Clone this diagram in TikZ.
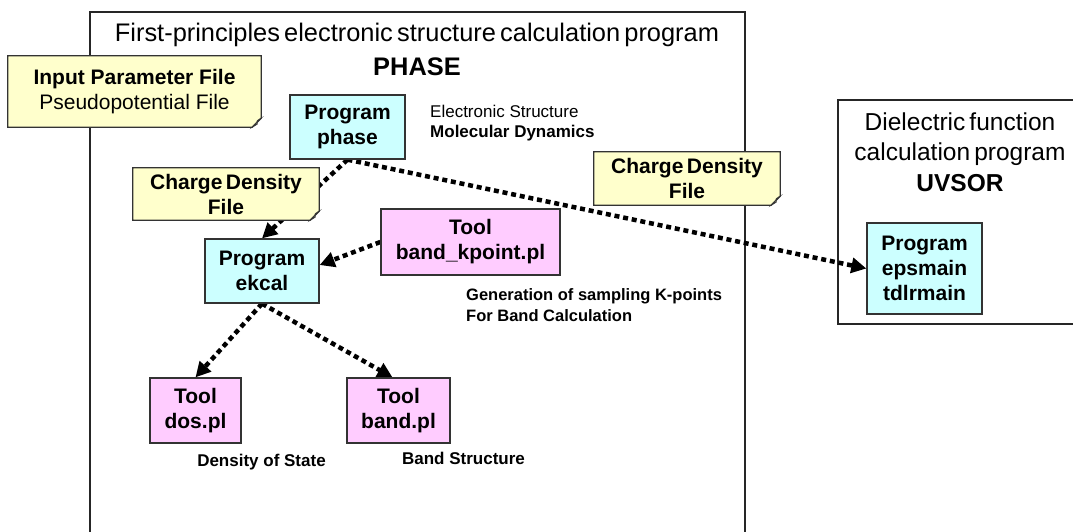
\documentclass[tikz,border=0pt]{standalone}
\usepackage{fontspec}
\setmainfont{Liberation Sans}
\newfontfamily\tightsans{Liberation Sans}[WordSpace=0.6]
\usetikzlibrary{arrows.meta,calc}
\definecolor{cyanfill}{HTML}{CCFFFF}
\definecolor{pinkfill}{HTML}{FFCCFF}
\definecolor{notefill}{HTML}{FFFFCC}
\definecolor{edgegray}{HTML}{333333}
\pgfdeclarelayer{frames}
\pgfdeclarelayer{links}
\pgfdeclarelayer{notebg}
\pgfsetlayers{frames,links,notebg,main}
\newcommand\dogear[1]{%
  \begin{pgfonlayer}{notebg}
  \draw[draw=edgegray,line width=1.3pt,fill=notefill,line join=miter]
    (#1.north west) -- (#1.north east) -- ([yshift=9pt]#1.south east)
    -- ([xshift=-9pt]#1.south east) -- (#1.south west) -- cycle;
  \draw[draw=edgegray,line width=0.8pt,fill=notefill!80!gray]
    ([yshift=9pt]#1.south east) .. controls ([xshift=-5pt,yshift=6pt]#1.south east) .. ([xshift=-4pt,yshift=3pt]#1.south east)
    .. controls ([xshift=-6pt,yshift=1pt]#1.south east) .. ([xshift=-9pt]#1.south east) -- cycle;
  \end{pgfonlayer}}
\begin{document}
\begin{tikzpicture}[x=1pt,y=-1pt,
  box/.style={draw=edgegray,line width=1.3pt,inner sep=0pt,align=center,
    font=\fontsize{21}{25}\selectfont\bfseries\tightsans},
  progbox/.style={box,fill=cyanfill},
  toolbox/.style={box,fill=pinkfill},
  notebox/.style={inner sep=0pt,align=center,
    font=\fontsize{21}{25}\selectfont\bfseries\tightsans},
  link/.style={line width=4.5pt,dash pattern=on 5pt off 3.8pt,
    -{Triangle[length=15pt,width=15pt]}},
  smalltext/.style={font=\fontsize{17}{20}\selectfont\bfseries,inner sep=0pt},
  frameline/.style={line width=1.2pt,draw=black!85},
]
\useasboundingbox (0,0) rectangle (1073,532);

% titles
\node[align=center,inner sep=0pt,font=\fontsize{25.4}{34}\selectfont\tightsans] (ttl) at (417,49)
  {First-principles electronic structure calculation program\\\bfseries PHASE};
\node[align=center,inner sep=0pt,font=\fontsize{24.5}{30.5}\selectfont\tightsans] (uvt) at (960,152)
  {Dielectric function\\calculation program\\\bfseries UVSOR};

% program and tool boxes
\node[progbox,minimum width=115pt,minimum height=64pt] (phase) at (347.5,127) {Program\\phase};
\node[progbox,minimum width=114pt,minimum height=64pt] (ekcal) at (262,271) {Program\\ekcal};
\node[toolbox,minimum width=179pt,minimum height=66pt] (kpoint) at (470.5,242) {Tool\\band\_kpoint.pl};
\node[toolbox,minimum width=91pt,minimum height=65pt] (dos) at (195.5,410.5) {Tool\\dos.pl};
\node[toolbox,minimum width=103pt,minimum height=65pt] (band) at (398.5,410.5) {Tool\\band.pl};
\node[progbox,minimum width=115pt,minimum height=91pt] (eps) at (924.5,268.5) {Program\\epsmain\\tdlrmain};

% notes
\node[notebox,minimum width=253pt,minimum height=71pt,font=\fontsize{21}{25}\selectfont\bfseries] (inp) at (134.5,91.5)
  {Input Parameter File\\\mdseries Pseudopotential File};
\dogear{inp}
\node[notebox,minimum width=186pt,minimum height=52pt] (cdl) at (226,194) {Charge Density\\File};
\dogear{cdl}
\node[notebox,minimum width=186pt,minimum height=53pt] (cdr) at (687,178.5) {Charge Density\\File};
\dogear{cdr}

% annotations
\node[smalltext,anchor=west,align=left] (esmd) at (430,123)
  {\mdseries Electronic Structure\\Molecular Dynamics};
\node[smalltext,anchor=west,align=left,font=\fontsize{16.5}{21}\selectfont\bfseries] (gen) at (466,305.5)
  {Generation of sampling K-points\\For Band Calculation};
\node[smalltext] (dost) at (261.5,462) {Density of State};
\node[smalltext] (bst) at (463.5,458) {Band Structure};

% frames
\begin{pgfonlayer}{frames}
\draw[frameline] (90,532) -- (90,12) -- (745,12) -- (745,532);
\draw[frameline] (1073,100) -- (838,100) -- (838,324) -- (1073,324);
\end{pgfonlayer}

% connectors
\begin{pgfonlayer}{links}
\draw[link] (phase.south) -- (ekcal.north);
\draw[link] (phase.south) -- (eps.west);
\draw[link] (kpoint.west) -- ([yshift=6pt]ekcal.east);
\draw[link] (ekcal.south) -- (dos.north);
\draw[link] (ekcal.south) -- ([xshift=-6pt]band.north);
\end{pgfonlayer}
\end{tikzpicture}
\end{document}
